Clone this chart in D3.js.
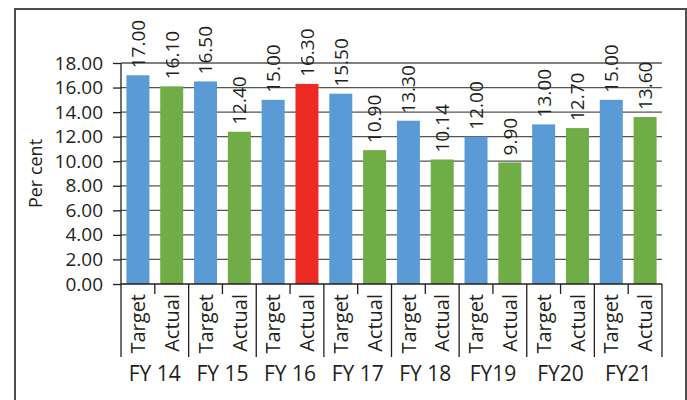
<!DOCTYPE html>
<html>
<head>
<meta charset="utf-8">
<script src="https://cdn.jsdelivr.net/npm/d3@7"></script>
<style>
  body { margin: 0; background: #fff; }
  text { font-family: "Open Sans", sans-serif; fill: #231f20; }
</style>
</head>
<body>
<svg id="chart" width="687" height="400"></svg>
<script>
// data
var years = ["FY 14", "FY 15", "FY 16", "FY 17", "FY 18", "FY19", "FY20", "FY21"];
var kinds = ["Target", "Actual"];
var targetVals = [17.00, 16.50, 15.00, 15.50, 13.30, 12.00, 13.00, 15.00];
var actualVals = [16.10, 12.40, 16.30, 10.90, 10.14, 9.90, 12.70, 13.60];
var yTicks = [0, 2, 4, 6, 8, 10, 12, 14, 16, 18];
var redBar = "FY 16|Actual"; // the one actual bar drawn in red

var colors = { Target: "#5b9bd5", Actual: "#70ad47", red: "#ee2a24" };

// flatten to one row per bar
var bars = [];
years.forEach(function(yr, i){
  bars.push({ key: yr + "|Target", year: yr, kind: "Target", v: targetVals[i] });
  bars.push({ key: yr + "|Actual", year: yr, kind: "Actual", v: actualVals[i] });
});

var svg = d3.select("#chart");

// outer frame
svg.append("rect")
  .attr("x", 15).attr("y", 9)
  .attr("width", 671).attr("height", 420)
  .attr("fill", "none")
  .attr("stroke", "#4d4d4d")
  .attr("stroke-width", 2);

var pLeft = 121, pRight = 662, pTop = 63, pBottom = 284;

var x = d3.scaleBand()
  .domain(bars.map(function(d){ return d.key; }))
  .range([pLeft, pRight])
  .paddingInner(0.32)
  .paddingOuter(0.16);

var gx = d3.scaleBand().domain(years).range([pLeft, pRight]);

var y = d3.scaleLinear().domain([0, 18]).range([pBottom, pTop]);

// gridlines
svg.append("g")
  .selectAll("line")
  .data(yTicks.slice(1))
  .join("line")
    .attr("x1", pLeft).attr("x2", pRight)
    .attr("y1", function(d){ return y(d); })
    .attr("y2", function(d){ return y(d); })
    .attr("stroke", "#555")
    .attr("stroke-width", 1.3);

// y axis
var yAxis = d3.axisLeft(y)
  .tickValues(yTicks)
  .tickFormat(d3.format(".2f"))
  .tickSize(8)
  .tickPadding(10);
var ya = svg.append("g")
  .attr("transform", "translate(" + pLeft + ",0)")
  .call(yAxis);
ya.select(".domain").attr("stroke", "#231f20").attr("stroke-width", 1.3).attr("d", "M0," + pTop + "V" + pBottom);
ya.selectAll(".tick line").attr("stroke", "#231f20").attr("stroke-width", 1.3);
ya.selectAll(".tick text")
  .style("font-family", "'Open Sans', sans-serif")
  .style("font-size", "19px")
  .attr("fill", "#231f20");

svg.append("text")
  .attr("transform", "translate(36," + ((pTop + pBottom) / 2) + ") rotate(-90)")
  .attr("text-anchor", "middle")
  .attr("dy", "0.36em")
  .style("font-size", "18px")
  .text("Per cent");

// bars
svg.append("g")
  .selectAll("rect")
  .data(bars)
  .join("rect")
    .attr("x", function(d){ return x(d.key); })
    .attr("width", x.bandwidth())
    .attr("y", function(d){ return y(d.v); })
    .attr("height", function(d){ return y(0) - y(d.v); })
    .attr("fill", function(d){ return d.key == redBar ? colors.red : colors[d.kind]; });

// value labels above bars
svg.append("g")
  .selectAll("text")
  .data(bars)
  .join("text")
    .attr("transform", function(d){
      return "translate(" + (x(d.key) + x.bandwidth() / 2) + "," + (y(d.v) - 7) + ") rotate(-90)";
    })
    .attr("dy", "0.36em")
    .style("font-size", "19px")
    .text(function(d){ return d3.format(".2f")(d.v); });

// x axis line
svg.append("line")
  .attr("x1", pLeft).attr("x2", pRight)
  .attr("y1", pBottom).attr("y2", pBottom)
  .attr("stroke", "#231f20").attr("stroke-width", 1.3);

// long separators between years
var seps = years.map(function(yr){ return gx(yr); }).concat([pRight]);
svg.append("g")
  .selectAll("line")
  .data(seps)
  .join("line")
    .attr("x1", function(d){ return d; }).attr("x2", function(d){ return d; })
    .attr("y1", pBottom).attr("y2", 357)
    .attr("stroke", "#231f20").attr("stroke-width", 1.3);

// short tick between Target and Actual
svg.append("g")
  .selectAll("line")
  .data(years)
  .join("line")
    .attr("x1", function(d){ return gx(d) + gx.bandwidth() / 2; })
    .attr("x2", function(d){ return gx(d) + gx.bandwidth() / 2; })
    .attr("y1", pBottom).attr("y2", 294)
    .attr("stroke", "#231f20").attr("stroke-width", 1.3);

// Target / Actual labels
svg.append("g")
  .selectAll("text")
  .data(bars)
  .join("text")
    .attr("transform", function(d){
      return "translate(" + (x(d.key) + x.bandwidth() / 2) + "," + (pBottom + 10) + ") rotate(-90)";
    })
    .attr("text-anchor", "end")
    .attr("dy", "0.36em")
    .style("font-size", "20px")
    .text(function(d){ return d.kind; });

// year labels
svg.append("g")
  .selectAll("text")
  .data(years)
  .join("text")
    .attr("x", function(d){ return gx(d) + gx.bandwidth() / 2; })
    .attr("y", 381)
    .attr("text-anchor", "middle")
    .style("font-size", "21px")
    .text(function(d){ return d; });
</script>
</body>
</html>
